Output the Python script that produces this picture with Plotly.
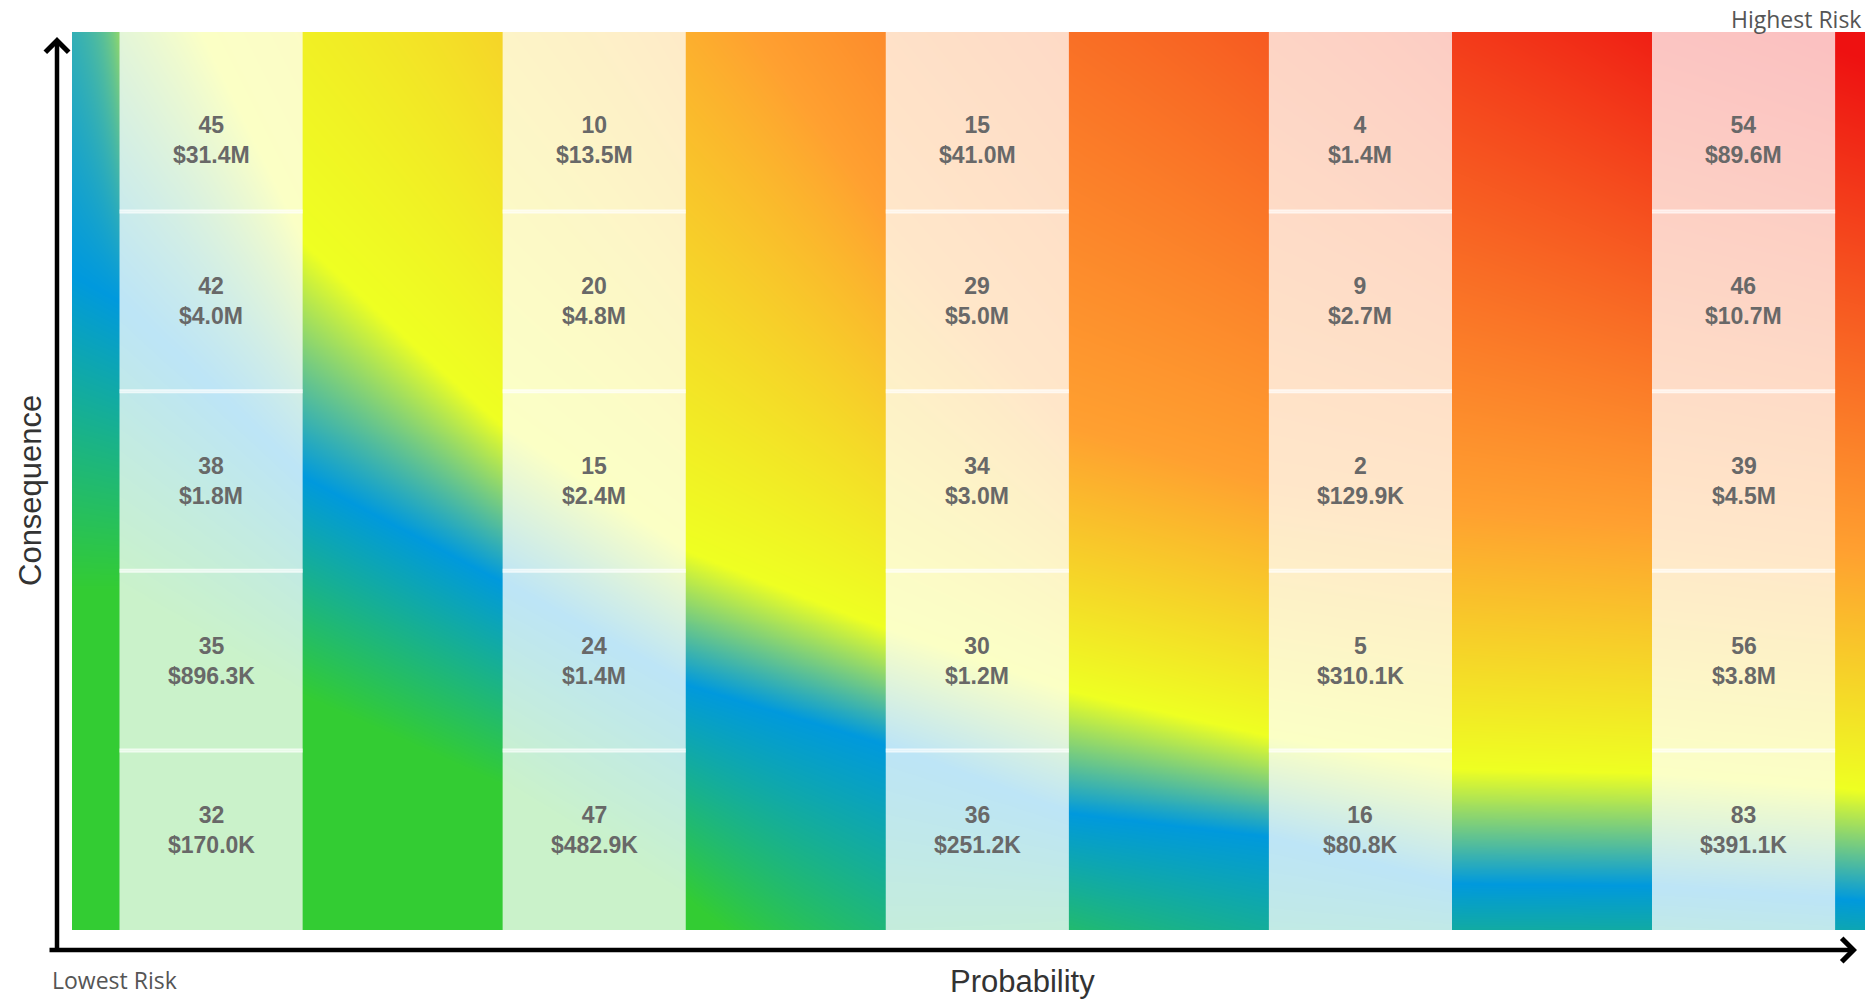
import numpy as np
import plotly.graph_objects as go

# ---------------- data ----------------
PROB_CLASSES = [1, 2, 3, 4, 5]          # probability columns (left -> right)
CONS_CLASSES = [5, 4, 3, 2, 1]          # consequence rows (top -> bottom)

# counts per column, listed top row -> bottom row
COUNTS = [
    [45, 42, 38, 35, 32],
    [10, 20, 15, 24, 47],
    [15, 29, 34, 30, 36],
    [4, 9, 2, 5, 16],
    [54, 46, 39, 56, 83],
]
# exposure ($) per column, listed top row -> bottom row
EXPOSURE = [
    [31.4e6, 4.0e6, 1.8e6, 896.3e3, 170.0e3],
    [13.5e6, 4.8e6, 2.4e6, 1.4e6, 482.9e3],
    [41.0e6, 5.0e6, 3.0e6, 1.2e6, 251.2e3],
    [1.4e6, 2.7e6, 129.9e3, 310.1e3, 80.8e3],
    [89.6e6, 10.7e6, 4.5e6, 3.8e6, 391.1e3],
]

# risk-gradient background:
# at each probability station, the consequence height where each colour stop sits
BG_STATIONS = [0.637, 0.763, 1.245, 1.756, 2.247, 2.752, 3.244, 3.749, 4.241, 4.755, 5.317]
BG_GREEN = [2.4, 2.4, 1.8, 1.315, 0.665, -0.195, 0.15, -0.29, 0.015, 0.015, 0.0]
BG_BLUE = [4.15, 4.0, 3.02, 2.445, 1.865, 1.54, 1.15, 1.025, 0.76, 0.75, 0.665]
BG_YELLOW = [10.5, 6.4, 4.315, 3.315, 2.605, 2.185, 1.83, 1.585, 1.4, 1.375, 1.28]
BG_ORANGE = [20.5, 13.0, 11.5, 8.15, 6.0, 4.5, 3.3, 3.0, 2.85, 2.75, 2.6]
BG_RED = [30.5, 25.5, 20.5, 16.5, 13.5, 11.5, 9.75, 8.1, 6.6, 5.8, 5.35]
BG_LEVELS = [0, 1, 2, 3, 4]

# ---------------- style ----------------
X_RANGE = [0.637, 5.317]
Y_RANGE = [0.5, 5.5]
CELL_HALF = 0.239
CELL_FILL = "rgba(255,255,255,0.74)"
SEP_COLOR = "rgba(255,255,255,0.72)"
TEXT_SHIFT = {5: -18, 1: 10}
COLORSCALE = [[0.0, "#33cc33"], [0.25, "#0099dd"], [0.5, "#eeff22"],
              [0.75, "#ffa030"], [1.0, "#ee1111"]]

W, H = 1874, 999
ML, MR, MT, MB = 72, 9, 32, 69
PW, PH = W - ML - MR, H - MT - MB


def fmt_money(v):
    if v >= 1e6:
        return f"${v / 1e6:.1f}M"
    return f"${v / 1e3:.1f}K"


def px_to_paper(px, py):
    return (px - ML) / PW, (H - MB - py) / PH


# background field
gx = np.linspace(X_RANGE[0] - 0.01, X_RANGE[1] + 0.01, 360)
gy = np.linspace(Y_RANGE[0] - 0.01, Y_RANGE[1] + 0.01, 260)
z = np.zeros((len(gy), len(gx)))
stops = [BG_GREEN, BG_BLUE, BG_YELLOW, BG_ORANGE, BG_RED]
for j, xv in enumerate(gx):
    knots = [np.interp(xv, BG_STATIONS, s) for s in stops]
    z[:, j] = np.interp(gy, knots, BG_LEVELS)

fig = go.Figure()
fig.add_trace(go.Heatmap(
    x=gx, y=gy, z=z, zmin=0, zmax=4, colorscale=COLORSCALE,
    zsmooth="best", showscale=False, hoverinfo="skip",
))

shapes = []
annotations = []
for ci, col in enumerate(PROB_CLASSES):
    for ri, row in enumerate(CONS_CLASSES):
        shapes.append(dict(
            type="rect", xref="x", yref="y",
            x0=col - CELL_HALF, x1=col + CELL_HALF,
            y0=row - 0.5, y1=row + 0.5,
            fillcolor=CELL_FILL, line=dict(width=0), layer="above",
        ))
        annotations.append(dict(
            xref="x", yref="y", x=col, y=row,
            text=f"<b>{COUNTS[ci][ri]}<br>{fmt_money(EXPOSURE[ci][ri])}</b>",
            showarrow=False, yshift=TEXT_SHIFT.get(row, 0),
            font=dict(family="Liberation Sans, Arial", size=23, color="#686868"),
        ))
    for b in [1.5, 2.5, 3.5, 4.5]:
        shapes.append(dict(
            type="line", xref="x", yref="y",
            x0=col - CELL_HALF, x1=col + CELL_HALF, y0=b, y1=b,
            line=dict(color=SEP_COLOR, width=4), layer="above",
        ))

# axis arrows
tx, ty = px_to_paper(1857, 950)
annotations.append(dict(
    xref="paper", yref="paper", x=tx, y=ty, ax=-(1857 - 48), ay=0,
    text="", showarrow=True, arrowhead=4, arrowsize=1, arrowwidth=4.5,
    arrowcolor="#000000",
))
tx, ty = px_to_paper(57, 37)
annotations.append(dict(
    xref="paper", yref="paper", x=tx, y=ty, ax=0, ay=952 - 37,
    text="", showarrow=True, arrowhead=4, arrowsize=1, arrowwidth=4.5,
    arrowcolor="#000000",
))

# labels
lx, ly = px_to_paper(1022, 981)
annotations.append(dict(xref="paper", yref="paper", x=lx, y=ly, text="Probability",
                        showarrow=False, xanchor="center", yanchor="middle",
                        font=dict(family="Liberation Sans, Arial", size=31, color="#333333")))
lx, ly = px_to_paper(30, 491)
annotations.append(dict(xref="paper", yref="paper", x=lx, y=ly, text="Consequence",
                        showarrow=False, xanchor="center", yanchor="middle", textangle=-90,
                        font=dict(family="Liberation Sans, Arial", size=31, color="#333333")))
lx, ly = px_to_paper(50, 980)
annotations.append(dict(xref="paper", yref="paper", x=lx, y=ly, text="Lowest Risk",
                        showarrow=False, xanchor="left", yanchor="middle",
                        font=dict(family="Open Sans", size=23, color="#555555")))
lx, ly = px_to_paper(1863, 19)
annotations.append(dict(xref="paper", yref="paper", x=lx, y=ly, text="Highest Risk",
                        showarrow=False, xanchor="right", yanchor="middle",
                        font=dict(family="Open Sans", size=23, color="#555555")))

fig.update_layout(
    width=W, height=H,
    margin=dict(l=ML, r=MR, t=MT, b=MB),
    paper_bgcolor="white", plot_bgcolor="white",
    shapes=shapes, annotations=annotations,
    xaxis=dict(range=X_RANGE, visible=False, fixedrange=True),
    yaxis=dict(range=Y_RANGE, visible=False, fixedrange=True),
    showlegend=False,
)

fig.write_html("out.html", config={"displayModeBar": False},
               post_script="document.body.style.margin='0';")
